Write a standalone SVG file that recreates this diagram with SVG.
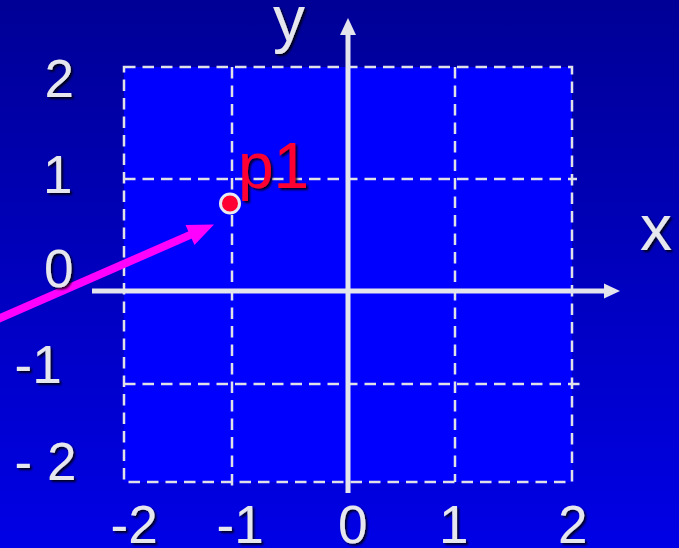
<svg xmlns="http://www.w3.org/2000/svg" width="679" height="548" viewBox="0 0 679 548">
  <defs>
    <linearGradient id="bg" x1="0" y1="0" x2="0" y2="1">
      <stop offset="0" stop-color="#000096"/>
      <stop offset="1" stop-color="#0000E6"/>
    </linearGradient>
    <filter id="shadow" x="-20%" y="-20%" width="150%" height="150%">
      <feDropShadow dx="2" dy="2" stdDeviation="0.8" flood-color="#000000" flood-opacity="0.85"/>
    </filter>
  </defs>
  <style>
    .grid { fill: none; stroke: #E0E0E8; stroke-width: 2.5; stroke-dasharray: 11.5 7; }
    .axis { stroke: #E4E4EC; stroke-width: 5; fill: none; }
    .axhead { fill: #E4E4EC; }
    .lbl { font-family: "Liberation Sans", Arial, sans-serif; font-size: 53px; fill: #E6E6EE; filter: url(#shadow); }
    .big { font-family: "Liberation Sans", Arial, sans-serif; font-size: 64px; fill: #E6E6EE; filter: url(#shadow); }
  </style>
  <rect x="0" y="0" width="679" height="548" fill="url(#bg)"/>
  <rect x="124" y="67" width="448" height="415" fill="#0000FF"/>
  <g id="grid">
    <rect class="grid" x="124" y="67" width="448" height="415"/>
    <line class="grid" x1="232" y1="67" x2="232" y2="486"/>
    <line class="grid" x1="455" y1="67" x2="455" y2="482"/>
    <line class="grid" x1="124" y1="179" x2="577" y2="179"/>
    <line class="grid" x1="124" y1="384" x2="582" y2="384"/>
  </g>
  <g id="x-axis">
    <line class="axis" x1="92" y1="291" x2="606" y2="291"/>
    <polygon class="axhead" points="620,291 604,283.5 604,298.5"/>
    <text class="big" x="640" y="250">x</text>
  </g>
  <g id="y-axis">
    <line class="axis" x1="348" y1="493" x2="348" y2="32"/>
    <polygon class="axhead" points="348,18 340,35 356,35"/>
    <text class="big" x="273" y="41">y</text>
  </g>
  <g id="connectors">
    <line x1="-10" y1="322.4" x2="192" y2="234.2" stroke="#FF00FF" stroke-width="8"/>
    <polygon points="214,224.6 185.5,224.9 194.5,245.1" fill="#FF00FF"/>
  </g>
  <g id="p1">
    <circle cx="230" cy="203.5" r="9.5" fill="#FF0033" stroke="#E8E8F0" stroke-width="3"/>
    <text x="238" y="188" font-family="Liberation Sans, Arial, sans-serif" font-size="64" fill="#FF0033" filter="url(#shadow)">p1</text>
  </g>
  <g id="y-labels">
    <text class="lbl" x="44.5" y="97">2</text>
    <text class="lbl" x="43" y="193">1</text>
    <text class="lbl" x="44" y="287">0</text>
    <text class="lbl" x="14.6" y="383">-1</text>
    <text class="lbl" x="14.6" y="480" xml:space="preserve">- 2</text>
  </g>
  <g id="x-labels">
    <text class="lbl" x="110.6" y="543">-2</text>
    <text class="lbl" x="216.6" y="543">-1</text>
    <text class="lbl" x="338" y="543">0</text>
    <text class="lbl" x="439" y="543">1</text>
    <text class="lbl" x="558" y="543">2</text>
  </g>
</svg>
